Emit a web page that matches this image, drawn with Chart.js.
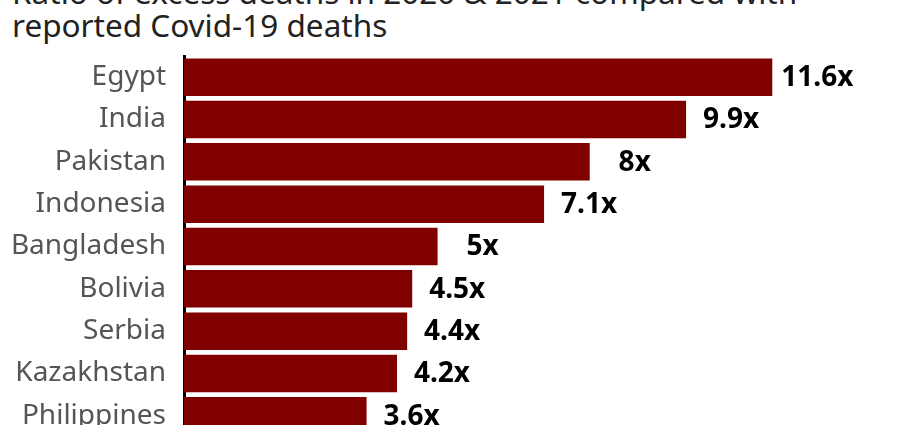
<!DOCTYPE html>
<html>
<head>
<meta charset="utf-8">
<script src="https://cdn.jsdelivr.net/npm/chart.js@4"></script>
<style>
  html, body { margin: 0; padding: 0; background: #fff; overflow: hidden; width: 920px; height: 425px; }
  #title { position: absolute; left: 12px; top: -25px; font: 31.5px/33px "Noto Sans", sans-serif; color: #222; white-space: nowrap; }
  #chart { position: absolute; left: 0; top: 0; }
</style>
</head>
<body>
<div id="title">Ratio of excess deaths in 2020 &amp; 2021 compared with<br>reported Covid-19 deaths</div>
<canvas id="chart" width="920" height="440"></canvas>
<script>
// ratio of excess deaths to reported covid deaths
var countries = ["Egypt", "India", "Pakistan", "Indonesia", "Bangladesh", "Bolivia", "Serbia", "Kazakhstan", "Philippines"];
var ratios = [11.6, 9.9, 8, 7.1, 5, 4.5, 4.4, 4.2, 3.6];

var barLabels = {
    id: 'barLabels',
    afterDatasetsDraw: function(chart) {
        var ctx = chart.ctx;
        var meta = chart.getDatasetMeta(0);
        ctx.save();
        ctx.font = 'bold 28px "Noto Sans", sans-serif';
        ctx.fillStyle = '#000';
        ctx.textAlign = 'center';
        ctx.textBaseline = 'middle';
        meta.data.forEach(function(bar, i) {
            ctx.fillText(ratios[i] + 'x', bar.x + 45, bar.y + 1);
        });
        ctx.restore();
    }
};

var ratioChart = document.getElementById("chart").getContext('2d');
var myBarChart = new Chart(ratioChart, {
    type: 'bar',
    data: {
    labels: countries,
    datasets: [{
        data: ratios,
        backgroundColor: "#800000",
        barPercentage: 0.885,
        categoryPercentage: 1
    }]
    },
    options: {
    indexAxis: 'y',
    responsive: false,
    devicePixelRatio: 1,
    animation: false,
    layout: { padding: { top: 56, bottom: 3, left: 0, right: 26 } },
    plugins: {
        legend: { display: false },
        tooltip: { enabled: false }
    },
    scales: {
        x: { display: false, min: 0, max: 14 },
        y: {
            z: 1,
            grid: { display: false, drawTicks: false },
            border: { display: true, color: '#000', width: 3 },
            ticks: {
                color: '#555',
                padding: 18,
                font: { family: '"Noto Sans", sans-serif', size: 28 }
            },
            afterFit: function(scale) {
                scale.width = 184;
                scale.paddingTop = 0;
                scale.paddingBottom = 0;
            }
        }
    }
    },
    plugins: [barLabels]
});
</script>
</body>
</html>
